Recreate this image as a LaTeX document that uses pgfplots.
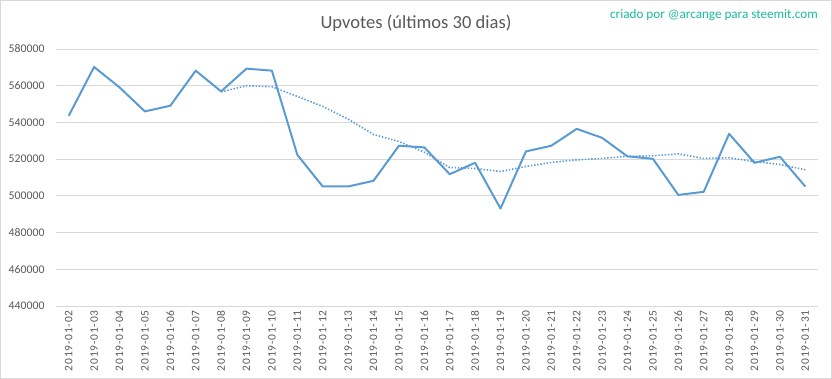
\documentclass[border=0pt]{standalone}
\usepackage{pgfplots}
\pgfplotsset{compat=1.18}
\usepackage{pgfplotstable}
\usepackage{fontspec}
\setmainfont{Carlito}
\newfontfamily\xlabfont[LetterSpace=7]{Carlito}
\definecolor{xlblue}{HTML}{5B9BD5}
\definecolor{gridc}{HTML}{D9D9D9}
\definecolor{ticktxt}{HTML}{595959}
\definecolor{titletxt}{HTML}{595959}
\definecolor{wmark}{HTML}{1ABC9C}
\pgfplotstableread{
x y
0 543600
1 570200
2 559100
3 546000
4 549100
5 568200
6 556900
7 569300
8 568200
9 522400
10 505100
11 505100
12 508200
13 527300
14 526400
15 511800
16 518000
17 493100
18 524200
19 527300
20 536500
21 531600
22 521500
23 520200
24 500500
25 502200
26 533800
27 518000
28 521300
29 505100
}\upvotes
\pgfplotstableread{
x y
6 556600
7 560000
8 559450
9 554200
10 548700
11 541800
12 533450
13 529600
14 523800
15 515450
16 514900
17 513300
18 516000
19 518200
20 519600
21 520400
22 521600
23 521800
24 522900
25 520400
26 520700
27 518700
28 517100
29 514200
}\trend
\begin{document}
\begin{tikzpicture}
\path[use as bounding box] (0,0) rectangle (832bp,379bp);
\draw[color=gridc, line width=0.75bp] (0.5bp,0.5bp) rectangle (831.5bp,378.5bp);
\begin{axis}[
  at={(56bp,73bp)}, anchor=south west,
  scale only axis, width=762bp, height=257bp,
  xmin=-0.5, xmax=29.5, ymin=440000, ymax=580000,
  ytick={440000,460000,...,580000},
  xtick={0,...,29},
  xticklabels={2019-01-02,2019-01-03,2019-01-04,2019-01-05,2019-01-06,2019-01-07,2019-01-08,2019-01-09,2019-01-10,2019-01-11,2019-01-12,2019-01-13,2019-01-14,2019-01-15,2019-01-16,2019-01-17,2019-01-18,2019-01-19,2019-01-20,2019-01-21,2019-01-22,2019-01-23,2019-01-24,2019-01-25,2019-01-26,2019-01-27,2019-01-28,2019-01-29,2019-01-30,2019-01-31},
  axis line style={draw=none},
  major tick length=0pt,
  ymajorgrids, grid style={color=gridc, line width=0.75bp},
  scaled y ticks=false,
  yticklabel={\pgfmathprintnumber[fixed,precision=0,set thousands separator={},assume math mode=true]{\tick}},
  yticklabel style={font=\fontsize{11.8}{13}\selectfont, text=ticktxt, anchor=east, xshift=-8bp},
  xticklabel style={font=\xlabfont\fontsize{11.5}{13}\selectfont, text=ticktxt, rotate=90, anchor=east, xshift=-1bp},
  clip=false,
]
\addplot[color=xlblue, line width=2bp, line join=round] table[x=x,y=y] {\upvotes};
\addplot[color=xlblue, line width=1.6bp, dash pattern=on 1.4bp off 1.8bp] table[x=x,y=y] {\trend};
\end{axis}
\node[text=titletxt, font=\fontsize{18.6}{22}\selectfont] at (416bp,356bp) {Upvotes (últimos 30 dias)};
\node[text=wmark, font=\fontsize{13.2}{15}\selectfont] at (714bp,364bp) {criado por @arcange para steemit.com};
\end{tikzpicture}
\end{document}
